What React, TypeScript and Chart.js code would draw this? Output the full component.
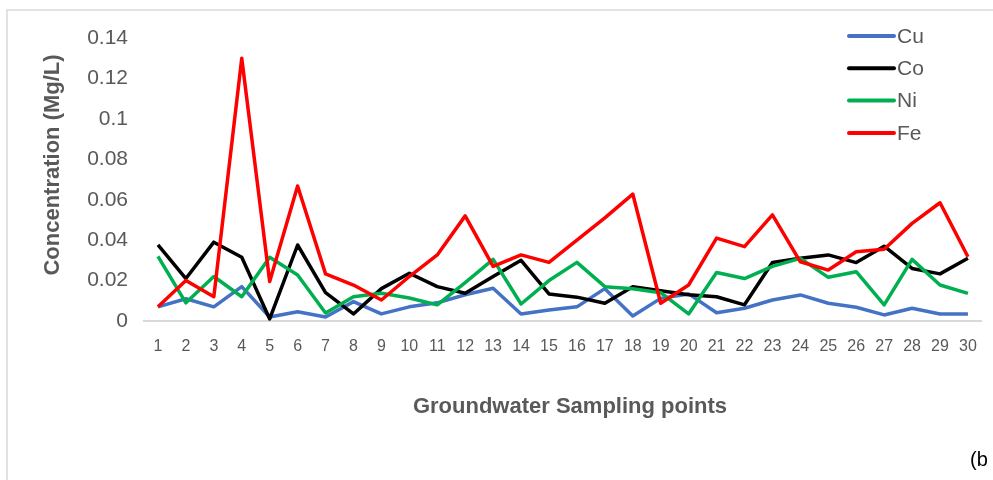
import React, { useEffect, useRef } from "react";
import { Chart, registerables } from "chart.js";

Chart.register(...registerables);

const categories = ["1","2","3","4","5","6","7","8","9","10","11","12","13","14","15","16","17","18","19","20","21","22","23","24","25","26","27","28","29","30"];

const cuValues = [0.007, 0.011, 0.007, 0.017, 0.002, 0.0046, 0.002, 0.0096, 0.0035, 0.007, 0.009, 0.013, 0.0162, 0.0035, 0.0054, 0.007, 0.016, 0.0025, 0.0112, 0.0134, 0.0041, 0.0063, 0.0104, 0.0129, 0.0088, 0.0068, 0.003, 0.0063, 0.0035, 0.0035];
const coValues = [0.0376, 0.021, 0.039, 0.0315, 0.001, 0.0376, 0.014, 0.0035, 0.016, 0.0236, 0.017, 0.0137, 0.022, 0.030, 0.0134, 0.0118, 0.0088, 0.017, 0.015, 0.013, 0.012, 0.008, 0.0289, 0.031, 0.0327, 0.0289, 0.037, 0.026, 0.0233, 0.031];
const niValues = [0.032, 0.009, 0.022, 0.012, 0.0315, 0.0228, 0.004, 0.012, 0.0137, 0.0114, 0.008, 0.019, 0.0305, 0.0084, 0.020, 0.029, 0.017, 0.016, 0.014, 0.0035, 0.024, 0.021, 0.027, 0.031, 0.0216, 0.0244, 0.008, 0.0305, 0.0178, 0.0137];
const feValues = [0.007, 0.020, 0.012, 0.130, 0.0195, 0.0668, 0.0233, 0.0178, 0.0104, 0.022, 0.0327, 0.052, 0.027, 0.0327, 0.029, 0.040, 0.051, 0.0628, 0.0088, 0.0178, 0.041, 0.0368, 0.0525, 0.0293, 0.0252, 0.0343, 0.0355, 0.0483, 0.0585, 0.0318];

const seriesNames = ["Cu", "Co", "Ni", "Fe"];
const seriesColors = ["#4472C4", "#000000", "#00B050", "#FF0000"];

const yTitle = "Concentration (Mg/L)";
const xTitle = "Groundwater Sampling points";
const panelLabel = "(b";

const FONT = "'Liberation Sans', Arial, sans-serif";
const GRAY = "#595959";

const decorPlugin = {
  id: "decor",
  beforeDraw(chart: any) {
    const ctx = chart.ctx;
    ctx.save();
    ctx.fillStyle = "#ffffff";
    ctx.fillRect(0, 0, chart.width, chart.height);
    ctx.strokeStyle = "#d9d9d9";
    ctx.lineWidth = 1.5;
    ctx.beginPath();
    ctx.moveTo(7, chart.height);
    ctx.lineTo(7, 10);
    ctx.lineTo(chart.width, 10);
    ctx.stroke();
    ctx.restore();
  },
  afterDraw(chart: any) {
    const ctx = chart.ctx;
    ctx.save();
    ctx.fillStyle = GRAY;
    ctx.font = `bold 22px ${FONT}`;
    ctx.textAlign = "center";
    ctx.textBaseline = "middle";
    ctx.translate(53, 165);
    ctx.rotate(-Math.PI / 2);
    ctx.fillText(yTitle, 0, 0);
    ctx.restore();

    ctx.save();
    ctx.fillStyle = GRAY;
    ctx.font = `bold 22px ${FONT}`;
    ctx.textAlign = "center";
    ctx.textBaseline = "middle";
    ctx.fillText(xTitle, 570, 407);

    chart.data.datasets.forEach((ds: any, i: number) => {
      const y = 36 + i * 32.3;
      ctx.strokeStyle = ds.borderColor;
      ctx.lineWidth = 4;
      ctx.lineCap = "round";
      ctx.beginPath();
      ctx.moveTo(849, y);
      ctx.lineTo(894, y);
      ctx.stroke();
      ctx.fillStyle = GRAY;
      ctx.font = `21px ${FONT}`;
      ctx.textAlign = "left";
      ctx.textBaseline = "middle";
      ctx.fillText(ds.label, 897, y + 1);
    });

    ctx.fillStyle = "#000000";
    ctx.font = `20px ${FONT}`;
    ctx.textAlign = "left";
    ctx.textBaseline = "middle";
    ctx.fillText(panelLabel, 970, 460);
    ctx.restore();
  },
};

export default function App() {
  const canvasRef = useRef<HTMLCanvasElement | null>(null);

  useEffect(() => {
    const canvas = canvasRef.current;
    if (!canvas) return;
    const valueSets = [cuValues, coValues, niValues, feValues];
    const chart = new Chart(canvas, {
      type: "line",
      data: {
        labels: categories,
        datasets: valueSets.map((vals, i) => ({
          label: seriesNames[i],
          data: vals,
          borderColor: seriesColors[i],
          backgroundColor: seriesColors[i],
          borderWidth: 3.5,
          pointRadius: 0,
          tension: 0,
          fill: false,
          borderJoinStyle: "round" as const,
          order: 4 - i,
        })),
      },
      options: {
        responsive: false,
        animation: false,
        devicePixelRatio: 1,
        layout: { padding: { top: 38, right: 10, left: 0, bottom: 0 } },
        plugins: {
          legend: { display: false },
          tooltip: { enabled: false },
          title: { display: false },
        },
        scales: {
          x: {
            offset: true,
            grid: { display: false, drawTicks: false },
            border: { display: true, color: "#d9d9d9", width: 2 },
            ticks: {
              autoSkip: false,
              maxRotation: 0,
              minRotation: 0,
              padding: 16,
              color: GRAY,
              font: { family: FONT, size: 16 },
            },
            afterFit(scale: any) {
              scale.height = 159;
            },
          },
          y: {
            min: 0,
            max: 0.14,
            grid: { display: false, drawTicks: false },
            border: { display: false },
            ticks: {
              stepSize: 0.02,
              padding: 16,
              color: GRAY,
              font: { family: FONT, size: 21 },
              callback: (v: any) => String(Number(Number(v).toFixed(4))),
            },
            afterFit(scale: any) {
              scale.width = 144;
            },
          },
        },
      },
      plugins: [decorPlugin],
    });
    return () => chart.destroy();
  }, []);

  return (
    <div style={{ position: "absolute", left: 0, top: 0, width: 993, height: 480 }}>
      <canvas ref={canvasRef} width={993} height={480} style={{ width: 993, height: 480, display: "block" }} />
    </div>
  );
}
